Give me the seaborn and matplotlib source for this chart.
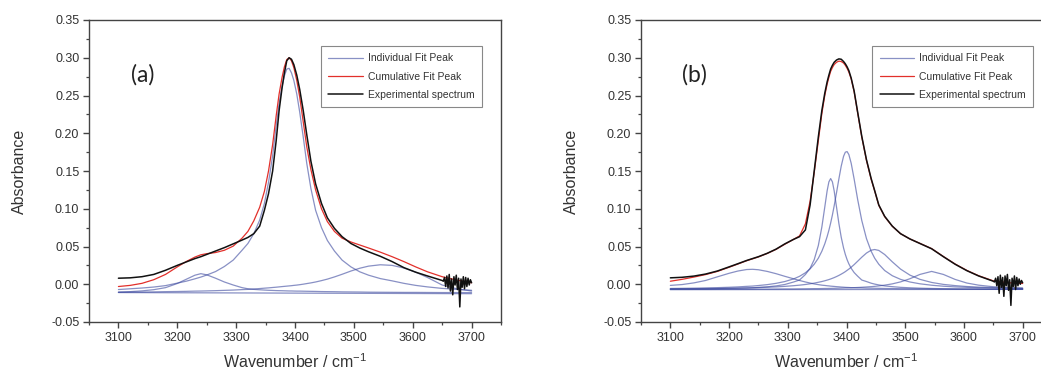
import matplotlib
matplotlib.use("Agg")
import matplotlib.pyplot as plt
from matplotlib.ticker import MultipleLocator, FormatStrFormatter
from matplotlib.lines import Line2D
import seaborn as sns

# --- panel (a) : peak fit with three components ---
wn_a = [3100, 3120, 3140, 3160, 3180, 3200, 3215, 3230, 3240, 3250,
        3265, 3280, 3295, 3310, 3320, 3330, 3340, 3348, 3355, 3362,
        3368, 3373, 3378, 3382, 3386, 3390, 3394, 3398, 3403, 3408,
        3414, 3420, 3427, 3435, 3445, 3455, 3467, 3480, 3495, 3510,
        3525, 3545, 3565, 3585, 3605, 3625, 3650, 3675, 3700]
peak_3240_a = [-0.0105, -0.0098, -0.0088, -0.0072, -0.0045, 0.0010, 0.0065, 0.0120, 0.0140, 0.0125,
               0.0080, 0.0030, -0.0010, -0.0045, -0.0060, -0.0068, -0.0073, -0.0077, -0.0080, -0.0082,
               -0.0084, -0.0085, -0.0086, -0.0087, -0.0088, -0.0089, -0.0089, -0.0090, -0.0091, -0.0091,
               -0.0092, -0.0093, -0.0094, -0.0095, -0.0097, -0.0098, -0.0099, -0.0101, -0.0102, -0.0103,
               -0.0105, -0.0106, -0.0107, -0.0108, -0.0108, -0.0109, -0.0110, -0.0110, -0.0111]
peak_3388_a = [-0.0070, -0.0060, -0.0050, -0.0037, -0.0018, 0.0015, 0.0040, 0.0072, 0.0095, 0.0122,
               0.0168, 0.0235, 0.0320, 0.0450, 0.0540, 0.0670, 0.0850, 0.1070, 0.1350, 0.1700,
               0.2100, 0.2400, 0.2620, 0.2760, 0.2850, 0.2860, 0.2800, 0.2700, 0.2520, 0.2280,
               0.1950, 0.1600, 0.1270, 0.0980, 0.0750, 0.0580, 0.0440, 0.0320, 0.0230, 0.0165,
               0.0120, 0.0075, 0.0045, 0.0012, -0.0015, -0.0035, -0.0055, -0.0068, -0.0080]
peak_3545_a = [-0.0105, -0.0104, -0.0103, -0.0101, -0.0098, -0.0096, -0.0094, -0.0091, -0.0090, -0.0088,
               -0.0085, -0.0081, -0.0077, -0.0071, -0.0068, -0.0063, -0.0057, -0.0052, -0.0048, -0.0043,
               -0.0039, -0.0035, -0.0031, -0.0028, -0.0025, -0.0022, -0.0019, -0.0015, -0.0011, -0.0006,
               0.0001, 0.0009, 0.0018, 0.0030, 0.0048, 0.0068, 0.0097, 0.0132, 0.0175, 0.0212,
               0.0240, 0.0258, 0.0250, 0.0215, 0.0160, 0.0090, -0.0010, -0.0060, -0.0090]
base_wn_a = [3100, 3700]
base_ab_a = [-0.0110, -0.0125]
cumul_a = [-0.0030, -0.0015, 0.0012, 0.0060, 0.0130, 0.0230, 0.0300, 0.0360, 0.0390, 0.0405,
           0.0420, 0.0450, 0.0505, 0.0610, 0.0700, 0.0840, 0.1020, 0.1230, 0.1500, 0.1850,
           0.2230, 0.2520, 0.2740, 0.2880, 0.2975, 0.3000, 0.2960, 0.2870, 0.2700, 0.2480,
           0.2150, 0.1820, 0.1520, 0.1250, 0.1000, 0.0830, 0.0700, 0.0610, 0.0560, 0.0520,
           0.0480, 0.0425, 0.0365, 0.0300, 0.0230, 0.0165, 0.0100, 0.0055, 0.0020]
exp_a = [0.0080, 0.0085, 0.0100, 0.0130, 0.0185, 0.0250, 0.0295, 0.0340, 0.0365, 0.0395,
         0.0440, 0.0485, 0.0535, 0.0585, 0.0620, 0.0670, 0.0770, 0.0980, 0.1200, 0.1500,
         0.1900, 0.2300, 0.2600, 0.2800, 0.2960, 0.3000, 0.2980, 0.2910, 0.2770, 0.2580,
         0.2300, 0.1980, 0.1630, 0.1330, 0.1070, 0.0880, 0.0740, 0.0630, 0.0540, 0.0480,
         0.0430, 0.0370, 0.0300, 0.0220, 0.0160, 0.0110, 0.0050]
# noisy end of the measured spectrum
tail_wn = [3652, 3654, 3656, 3658, 3660, 3662, 3664, 3666, 3668, 3670,
           3672, 3674, 3676, 3678, 3680, 3682, 3684, 3686, 3688, 3690,
           3692, 3694, 3696, 3698, 3700]
tail_a = [0.004, 0.009, -0.003, 0.011, -0.005, 0.013, -0.009, 0.007, -0.014, 0.010,
          -0.001, 0.012, -0.007, 0.008, -0.030, 0.007, -0.004, 0.010, -0.006, 0.009,
          -0.003, 0.008, -0.001, 0.006, 0.002]

# --- panel (b) : peak fit with five components ---
wn_b = [3100, 3120, 3140, 3160, 3180, 3200, 3215, 3230, 3240, 3250,
        3265, 3280, 3295, 3310, 3320, 3330, 3338, 3345, 3352, 3358,
        3363, 3367, 3370, 3373, 3376, 3379, 3383, 3387, 3391, 3395,
        3398, 3401, 3404, 3408, 3413, 3419, 3426, 3434, 3442, 3448,
        3455, 3465, 3478, 3492, 3508, 3525, 3545, 3565, 3585, 3605,
        3625, 3650, 3675, 3700]
peak_3237_b = [-0.0015, -0.0004, 0.0018, 0.0050, 0.0098, 0.0145, 0.0175, 0.0195, 0.0198, 0.0192,
               0.0170, 0.0140, 0.0105, 0.0072, 0.0050, 0.0030, 0.0016, 0.0004, -0.0005, -0.0012,
               -0.0016, -0.0020, -0.0022, -0.0025, -0.0027, -0.0029, -0.0032, -0.0034, -0.0037, -0.0039,
               -0.0041, -0.0042, -0.0043, -0.0045, -0.0046, -0.0048, -0.0049, -0.0051, -0.0052, -0.0053,
               -0.0054, -0.0056, -0.0057, -0.0059, -0.0060, -0.0061, -0.0063, -0.0064, -0.0065, -0.0066,
               -0.0066, -0.0067, -0.0068, -0.0068]
peak_3373_b = [-0.0064, -0.0063, -0.0062, -0.0061, -0.0059, -0.0056, -0.0053, -0.0050, -0.0047, -0.0042,
               -0.0034, -0.0022, -0.0003, 0.0030, 0.0056, 0.0129, 0.0211, 0.0326, 0.0512, 0.0757,
               0.1022, 0.1237, 0.1356, 0.1400, 0.1356, 0.1237, 0.1022, 0.0806, 0.0623, 0.0480,
               0.0395, 0.0326, 0.0270, 0.0211, 0.0155, 0.0107, 0.0056, 0.0036, 0.0014, 0.0002,
               -0.0009, -0.0022, -0.0032, -0.0041, -0.0047, -0.0052, -0.0056, -0.0059, -0.0061, -0.0062,
               -0.0063, -0.0065, -0.0065, -0.0066]
peak_3400_b = [-0.0056, -0.0054, -0.0052, -0.0049, -0.0045, -0.0040, -0.0035, -0.0028, -0.0024, -0.0017,
               -0.0005, 0.0012, 0.0036, 0.0071, 0.0105, 0.0152, 0.0204, 0.0265, 0.0345, 0.0437,
               0.0535, 0.0631, 0.0715, 0.0811, 0.0918, 0.1038, 0.1212, 0.1394, 0.1564, 0.1695,
               0.1749, 0.1757, 0.1718, 0.1602, 0.1394, 0.1123, 0.0845, 0.0605, 0.0437, 0.0345,
               0.0265, 0.0182, 0.0113, 0.0065, 0.0030, 0.0006, -0.0013, -0.0026, -0.0035, -0.0041,
               -0.0046, -0.0050, -0.0054, -0.0056]
peak_3448_b = [-0.0061, -0.0060, -0.0059, -0.0057, -0.0056, -0.0053, -0.0051, -0.0048, -0.0046, -0.0044,
               -0.0040, -0.0035, -0.0028, -0.0019, -0.0012, -0.0003, 0.0006, 0.0015, 0.0026, 0.0036,
               0.0046, 0.0055, 0.0062, 0.0070, 0.0079, 0.0088, 0.0102, 0.0117, 0.0134, 0.0152,
               0.0167, 0.0184, 0.0201, 0.0226, 0.0260, 0.0305, 0.0358, 0.0413, 0.0451, 0.0460,
               0.0448, 0.0394, 0.0297, 0.0201, 0.0121, 0.0065, 0.0024, -0.0002, -0.0018, -0.0030,
               -0.0038, -0.0045, -0.0050, -0.0054]
peak_3545_b = [-0.0068, -0.0067, -0.0067, -0.0067, -0.0066, -0.0066, -0.0066, -0.0065, -0.0065, -0.0064,
               -0.0064, -0.0063, -0.0062, -0.0062, -0.0061, -0.0060, -0.0059, -0.0058, -0.0058, -0.0057,
               -0.0056, -0.0056, -0.0055, -0.0055, -0.0054, -0.0054, -0.0053, -0.0052, -0.0051, -0.0050,
               -0.0049, -0.0049, -0.0048, -0.0047, -0.0045, -0.0043, -0.0040, -0.0036, -0.0032, -0.0028,
               -0.0022, -0.0012, 0.0005, 0.0031, 0.0073, 0.0130, 0.0170, 0.0130, 0.0064, 0.0016,
               -0.0012, -0.0033, -0.0044, -0.0051]
base_wn_b = [3100, 3700]
base_ab_b = [-0.0072, -0.0068]
cumul_b = [0.0040, 0.0065, 0.0095, 0.0128, 0.0170, 0.0225, 0.0268, 0.0312, 0.0337, 0.0362,
           0.0408, 0.0462, 0.0530, 0.0595, 0.0640, 0.0800, 0.1100, 0.1480, 0.1900, 0.2260,
           0.2500, 0.2650, 0.2740, 0.2820, 0.2870, 0.2910, 0.2940, 0.2955, 0.2950, 0.2930,
           0.2900, 0.2860, 0.2810, 0.2720, 0.2550, 0.2270, 0.1950, 0.1640, 0.1390, 0.1235,
           0.1045, 0.0895, 0.0768, 0.0670, 0.0600, 0.0542, 0.0472, 0.0368, 0.0268, 0.0183,
           0.0113, 0.0045, 0.0020, 0.0010]
exp_b = [0.0085, 0.0092, 0.0108, 0.0135, 0.0175, 0.0230, 0.0272, 0.0315, 0.0340, 0.0365,
         0.0410, 0.0465, 0.0535, 0.0595, 0.0630, 0.0720, 0.1050, 0.1500, 0.1950, 0.2300,
         0.2530, 0.2680, 0.2770, 0.2850, 0.2900, 0.2940, 0.2970, 0.2985, 0.2980, 0.2950,
         0.2920, 0.2880, 0.2830, 0.2730, 0.2560, 0.2280, 0.1960, 0.1650, 0.1400, 0.1240,
         0.1050, 0.0900, 0.0770, 0.0670, 0.0600, 0.0540, 0.0470, 0.0365, 0.0265, 0.0180,
         0.0110, 0.0040]
tail_b = [0.003, 0.008, -0.002, 0.010, -0.012, 0.012, -0.004, 0.009, -0.016, 0.011,
          -0.002, 0.013, -0.008, 0.006, -0.028, 0.008, -0.003, 0.011, -0.007, 0.009,
          -0.002, 0.007, 0.000, 0.005, 0.002]

legend_labels = ["Individual Fit Peak", "Cumulative Fit Peak", "Experimental spectrum"]

BLUE = "#3a479e"
RED = "#e2302b"
BLACK = "#111111"
SPINE = "#444444"

sns.set_style("ticks")
plt.rcParams["font.family"] = ["Liberation Sans", "DejaVu Sans"]
plt.rcParams["axes.unicode_minus"] = False
plt.rcParams["mathtext.fontset"] = "custom"
plt.rcParams["mathtext.rm"] = "Liberation Sans"
plt.rcParams["mathtext.it"] = "Liberation Sans:italic"


def draw_panel(ax, wn, peaks, base_wn, base_ab, cumul, exp, tail, letter):
    for pk in peaks:
        sns.lineplot(x=wn, y=pk, ax=ax, color=BLUE, alpha=0.6, linewidth=0.9,
                     sort=False, estimator=None, zorder=2)
    sns.lineplot(x=base_wn, y=base_ab, ax=ax, color=BLUE, alpha=0.6, linewidth=0.9,
                 sort=False, estimator=None, zorder=2)
    sns.lineplot(x=wn, y=cumul, ax=ax, color=RED, linewidth=0.9,
                 sort=False, estimator=None, zorder=3)
    # measured spectrum = smooth part on the grid + noisy tail
    sns.lineplot(x=wn[:len(exp)] + tail_wn, y=exp + tail, ax=ax, color=BLACK,
                 linewidth=1.1, sort=False, estimator=None, zorder=4)

    ax.set_xlim(3050, 3750)
    ax.set_ylim(-0.05, 0.35)
    ax.xaxis.set_minor_locator(MultipleLocator(50))
    ax.yaxis.set_major_locator(MultipleLocator(0.05))
    ax.yaxis.set_minor_locator(MultipleLocator(0.025))
    ax.yaxis.set_major_formatter(FormatStrFormatter("%.2f"))
    ax.set_xticks([3100, 3200, 3300, 3400, 3500, 3600, 3700])
    ax.tick_params(which="major", direction="out", length=4, width=1,
                   color=SPINE, labelsize=9, labelcolor="#333333", pad=3)
    ax.tick_params(which="minor", direction="out", length=2.5, width=0.9, color=SPINE)
    for sp in ax.spines.values():
        sp.set_color(SPINE)
        sp.set_linewidth(1.0)

    ax.set_xlabel("Wavenumber / cm$^{-1}$", fontsize=11.5, color="#333333")
    ax.set_ylabel("Absorbance", fontsize=11.5, color="#333333")
    ax.xaxis.set_label_coords(0.5, -0.1)
    ax.yaxis.set_label_coords(-0.15, 0.5)

    ax.text(0.13, 0.82, letter, transform=ax.transAxes, fontsize=16.5,
            family=["Lato", "DejaVu Sans"], ha="center", va="center", color="#222222")

    handles = [Line2D([], [], color="#8991c5", linewidth=0.9),
               Line2D([], [], color=RED, linewidth=0.9),
               Line2D([], [], color=BLACK, linewidth=1.1)]
    leg = ax.legend(handles, legend_labels, loc="upper left", bbox_to_anchor=(0.563, 0.914),
                    borderaxespad=0, fontsize=7.5, frameon=True, fancybox=False,
                    framealpha=1, edgecolor="#888888", handlelength=3.3,
                    handletextpad=0.5, labelspacing=0.8, borderpad=0.7)
    leg.get_frame().set_linewidth(0.8)
    for t in leg.get_texts():
        t.set_color("#333333")


fig = plt.figure(figsize=(10.41, 3.74), dpi=100)
ax_a = fig.add_axes([89 / 1041, 1 - 322 / 374, 412 / 1041, 302 / 374])
ax_b = fig.add_axes([641 / 1041, 1 - 322 / 374, 411 / 1041, 302 / 374])

draw_panel(ax_a, wn_a, [peak_3240_a, peak_3388_a, peak_3545_a], base_wn_a, base_ab_a,
           cumul_a, exp_a, tail_a, "(a)")
draw_panel(ax_b, wn_b, [peak_3237_b, peak_3373_b, peak_3400_b, peak_3448_b, peak_3545_b],
           base_wn_b, base_ab_b, cumul_b, exp_b, tail_b, "(b)")

fig.savefig("out.png", dpi=100)
